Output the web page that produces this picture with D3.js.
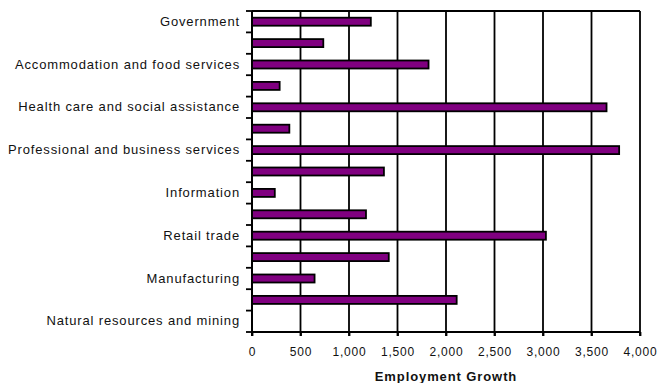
<!DOCTYPE html>
<html>
<head>
<meta charset="utf-8">
<script src="https://cdn.jsdelivr.net/npm/d3@7"></script>
<style>
  body { margin: 0; background: #fff; }
  text { font-family: "Liberation Sans", Arial, sans-serif; }
</style>
</head>
<body>
<svg id="chart" width="658" height="383"></svg>
<script>
// industries, top to bottom as drawn
const industries = [
  "Government",
  "Other services",
  "Accommodation and food services",
  "Arts, entertainment, and recreation",
  "Health care and social assistance",
  "Educational services",
  "Professional and business services",
  "Financial activities",
  "Information",
  "Transportation and warehousing",
  "Retail trade",
  "Wholesale trade",
  "Manufacturing",
  "Construction",
  "Natural resources and mining"
];
const growth = [1225, 735, 1820, 285, 3655, 385, 3785, 1360, 235, 1175, 3030, 1410, 645, 2110, 0];
// only every other industry gets a label on the axis
const labelled = [
  "Government",
  "Accommodation and food services",
  "Health care and social assistance",
  "Professional and business services",
  "Information",
  "Retail trade",
  "Manufacturing",
  "Natural resources and mining"
];
const xTicks = [0, 500, 1000, 1500, 2000, 2500, 3000, 3500, 4000];

const svg = d3.select("#chart");
const marginLeft = 252;
const marginRight = 18;
const marginTop = 11;
const marginBottom = 51;
const width = 658;
const height = 383;

const x = d3.scaleLinear().domain([0, 4000]).range([marginLeft, width - marginRight]);
const y = d3.scaleBand().domain(industries).range([marginTop, height - marginBottom]);
const barH = 8;

// vertical gridlines
svg.append("g")
  .selectAll("line")
  .data(xTicks.slice(1))
  .join("line")
  .attr("x1", d => x(d))
  .attr("x2", d => x(d))
  .attr("y1", marginTop)
  .attr("y2", height - marginBottom + 4)
  .attr("stroke", "#000")
  .attr("stroke-width", 1.8);

// top border
svg.append("line")
  .attr("x1", marginLeft)
  .attr("x2", width - marginRight)
  .attr("y1", marginTop)
  .attr("y2", marginTop)
  .attr("stroke", "#000")
  .attr("stroke-width", 1.8);

// bars
svg.append("g")
  .selectAll("rect")
  .data(industries.map((d, i) => ({ name: d, value: growth[i] })).filter(d => d.value > 0))
  .join("rect")
  .attr("x", x(0))
  .attr("y", d => y(d.name) + y.bandwidth() / 2 - barH / 2)
  .attr("width", d => x(d.value) - x(0))
  .attr("height", barH)
  .attr("fill", "#800080")
  .attr("stroke", "#000")
  .attr("stroke-width", 1.8);

// x axis
const xAxis = svg.append("g")
  .attr("transform", `translate(0, ${height - marginBottom})`)
  .call(d3.axisBottom(x).tickValues(xTicks).tickSize(4).tickPadding(11).tickFormat(d3.format(",")));
xAxis.selectAll("path, line").attr("stroke", "#000").attr("stroke-width", 1.8);
xAxis.select(".domain").attr("d", `M${x(0)},0H${x(4000)}`);
xAxis.selectAll("text")
  .attr("fill", "#111")
  .style("font-size", "12px")
  .style("letter-spacing", "0.8px");

// y axis: labels at band centres, ticks at band edges
const yAxis = svg.append("g")
  .attr("transform", `translate(${marginLeft}, 0)`)
  .call(d3.axisLeft(y).tickSize(0).tickPadding(12)
    .tickFormat(d => labelled.includes(d) ? d : ""));
yAxis.select(".domain").remove();
yAxis.selectAll("text")
  .attr("fill", "#111")
  .style("font-size", "13px")
  .style("letter-spacing", "0.85px");

svg.append("line")
  .attr("x1", marginLeft)
  .attr("x2", marginLeft)
  .attr("y1", marginTop)
  .attr("y2", height - marginBottom + 4)
  .attr("stroke", "#000")
  .attr("stroke-width", 2);

svg.append("g")
  .selectAll("line")
  .data(industries.map(d => y(d)).concat([y.range()[1]]))
  .join("line")
  .attr("x1", marginLeft - 6)
  .attr("x2", marginLeft)
  .attr("y1", d => d)
  .attr("y2", d => d)
  .attr("stroke", "#000")
  .attr("stroke-width", 1.8);

// axis title
svg.append("text")
  .attr("x", x(2000))
  .attr("y", height - 2)
  .attr("text-anchor", "middle")
  .attr("font-weight", "bold")
  .attr("fill", "#111")
  .style("font-size", "13px")
  .style("letter-spacing", "0.9px")
  .text("Employment Growth");
</script>
</body>
</html>
